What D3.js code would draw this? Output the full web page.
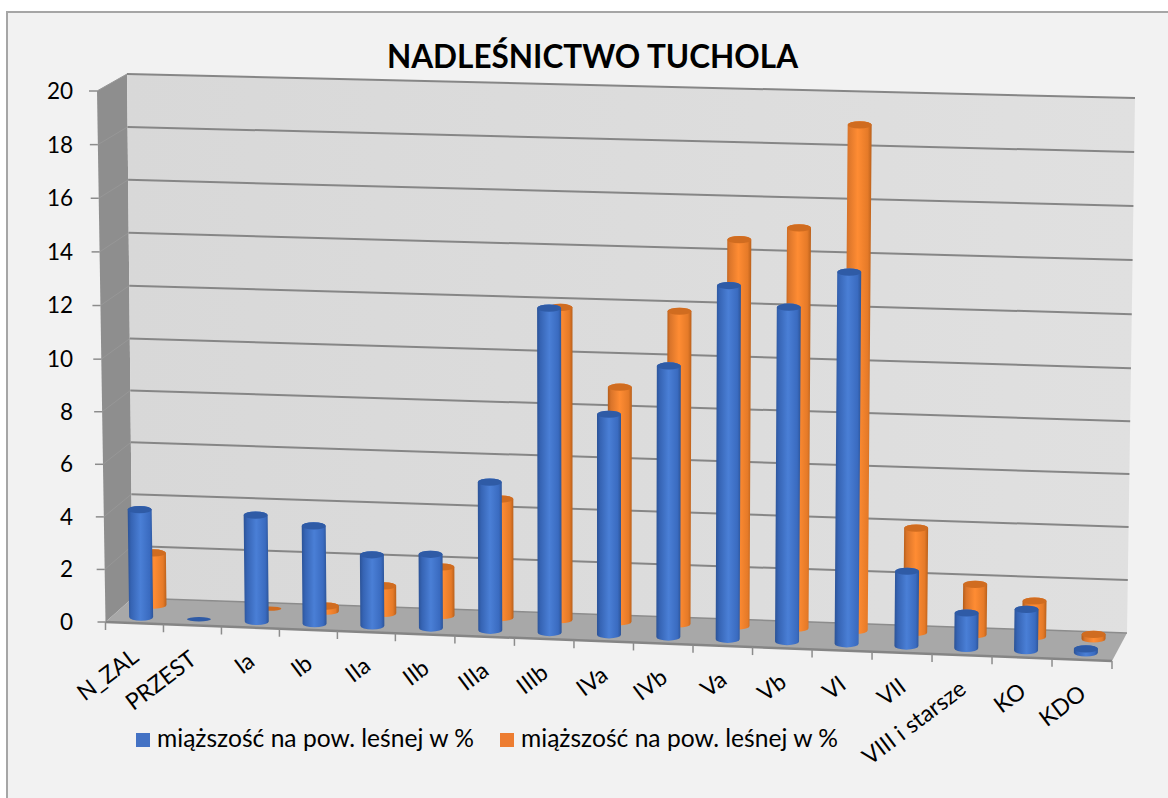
<!DOCTYPE html>
<html><head><meta charset="utf-8">
<script src="https://cdn.jsdelivr.net/npm/d3@7/dist/d3.min.js"></script>
<style>html,body{margin:0;padding:0;background:#fff}svg{display:block}text{font-family:Lato,"Open Sans",sans-serif;fill:#000}</style>
</head><body>
<script>
const categories = ["N_ZAL","PRZEST","Ia","Ib","IIa","IIb","IIIa","IIIb","IVa","IVb","Va","Vb","VI","VII","VIII i starsze","KO","KDO"];
const blueValues = [4.1,0,4.05,3.72,2.7,2.8,5.62,12.25,8.35,10.25,13.3,12.57,13.94,2.82,1.33,1.55,0.15];
const orangeValues = [2.0,null,0.02,0.2,1.05,1.85,4.52,11.86,8.93,11.85,14.58,15.08,18.97,3.95,1.9,1.35,0.17];
const yTicks = [0,2,4,6,8,10,12,14,16,18,20];
const seriesName = "miąższość na pow. leśnej w %";
const titleText = "NADLEŚNICTWO TUCHOLA";

const W = 1168, H = 798;
const svg = d3.select("body").append("svg").attr("width", W).attr("height", H);

// 3D box scales
const uS = d3.scaleLinear().domain([0, 5, 12, 17]).range([0, 0.288, 0.702, 1]);
const vS = d3.scaleLinear().domain([0, 10, 20]).range([0, 0.495, 1]);
const depth = { blue: 0.25, orange: 0.75 };
const corners = {
  flb:[105.5,622], flt:[97,91], blb:[132.5,598], blt:[127,74],
  frb:[1112,661], frt:[1120,122], brb:[1127,633], brt:[1135,98]
};
const lerp = (a, b, t) => [a[0] + (b[0]-a[0])*t, a[1] + (b[1]-a[1])*t];
function P(u, d, v) {
  const tu = uS(u), tv = vS(v);
  const fb = lerp(corners.flb, corners.frb, tu), ft = lerp(corners.flt, corners.frt, tu);
  const bb = lerp(corners.blb, corners.brb, tu), bt = lerp(corners.blt, corners.brt, tu);
  return lerp(lerp(fb, bb, d), lerp(ft, bt, d), tv);
}
const N = categories.length;
const poly = d3.line();

// defs
const defs = svg.append("defs");
function grad(id, stops, vertical) {
  const g = defs.append("linearGradient").attr("id", id);
  if (vertical) g.attr("x1",0).attr("x2",0).attr("y1",0).attr("y2",1);
  stops.forEach(s => g.append("stop").attr("offset", s[0]).attr("stop-color", s[1]));
}
grad("gBlue", [[0,"#2b5296"],[0.14,"#3664b4"],[0.5,"#4a7fd6"],[0.86,"#3a6bc0"],[1,"#2c5498"]]);
grad("gOrange", [[0,"#b05a18"],[0.14,"#d9742a"],[0.5,"#ff8c33"],[0.86,"#e57a28"],[1,"#b9601b"]]);
grad("gWall", [[0,"#d8d8d8"],[1,"#e0e0e0"]]);

// chart frame
svg.append("rect").attr("x",7).attr("y",12).attr("width",W+20).attr("height",H+20)
  .attr("fill","#f2f2f2").attr("stroke","#a6a6a6").attr("stroke-width",2);

// walls and floor
svg.append("path").attr("d", poly([P(0,0,0),P(0,0,20),P(0,1,20),P(0,1,0)]) + "Z").attr("fill","#8e8e8e");
svg.append("path").attr("d", poly([P(0,1,0),P(0,1,20),P(N,1,20),P(N,1,0)]) + "Z").attr("fill","url(#gWall)");
svg.append("path").attr("d", poly([P(0,0,0),P(N,0,0),P(N,1,0),P(0,1,0)]) + "Z").attr("fill","#a8a8a8");

// gridlines
yTicks.forEach(t => {
  if (t > 0) svg.append("path").attr("d", poly([P(0,1,t),P(N,1,t)])).attr("fill","none").attr("stroke","#868686").attr("stroke-width",2);
  if (t > 0) svg.append("path").attr("d", poly([P(0,0,t),P(0,1,t)])).attr("fill","none").attr("stroke","#979797").attr("stroke-width",1);
  const a = P(0,0,t);
  svg.append("line").attr("x1",a[0]-8).attr("x2",a[0]).attr("y1",a[1]).attr("y2",a[1]).attr("stroke","#8c8c8c").attr("stroke-width",1.5);
  svg.append("text").attr("x",73).attr("y",a[1]).attr("dy","0.35em").attr("text-anchor","end").attr("font-size",22.5).text(t);
});
svg.append("path").attr("d", poly([P(0,1,0),P(N,1,0)])).attr("fill","none").attr("stroke","#8c8c8c").attr("stroke-width",1.5);
svg.append("path").attr("d", poly([P(0,0,0),P(N,0,0)])).attr("fill","none").attr("stroke","#858585").attr("stroke-width",2.5);

// category ticks and labels
d3.range(N+1).forEach(i => {
  const a = P(i,0,0);
  svg.append("line").attr("x1",a[0]).attr("x2",a[0]).attr("y1",a[1]).attr("y2",a[1]+8).attr("stroke","#8c8c8c").attr("stroke-width",1.5);
});
categories.forEach((c,i) => {
  const a = P(i+0.5,0,0);
  svg.append("text").attr("transform",`translate(${a[0]-4},${a[1]+24}) rotate(-37)`)
    .attr("text-anchor","end").attr("dy","0.7em").attr("font-size",23).text(c);
});

// cylinders
function bars(values, d, fill, cap) {
  values.forEach((val,i) => {
    if (val === null) return;
    const b = P(i+0.5,d,0), t = P(i+0.5,d,val);
    const rx = 12;
    const ry = val < 0.05 ? 2.2 : 3.6;
    if (val >= 0.05) {
      svg.append("path").attr("fill",fill).attr("d",
        `M${b[0]-rx},${b[1]} L${t[0]-rx},${t[1]} A${rx},${ry} 0 0 1 ${t[0]+rx},${t[1]} L${b[0]+rx},${b[1]} A${rx},${ry} 0 0 1 ${b[0]-rx},${b[1]} Z`);
    }
    svg.append("ellipse").attr("cx",t[0]).attr("cy",t[1]).attr("rx",rx).attr("ry",ry).attr("fill",cap);
  });
}
bars(orangeValues, depth.orange, "url(#gOrange)", "#d06c20");
bars(blueValues, depth.blue, "url(#gBlue)", "#2f5ba6");

// title
svg.append("text").attr("x",592.5).attr("y",68).attr("text-anchor","middle").attr("font-size",31.5).attr("font-weight",700).text(titleText);

// legend
[["#4472c4",136],["#ed7d31",500]].forEach(l => {
  svg.append("rect").attr("x",l[1]).attr("y",733).attr("width",14).attr("height",14).attr("fill",l[0]);
  svg.append("text").attr("x",l[1]+21).attr("y",747).attr("font-size",24.6).text(seriesName);
});
</script>
</body></html>
